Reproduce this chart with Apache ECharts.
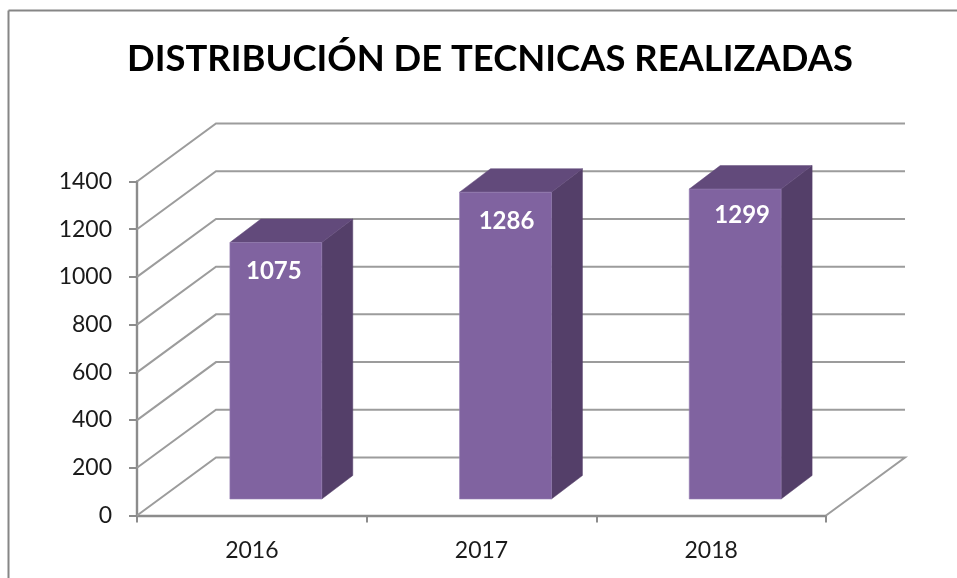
<!DOCTYPE html>
<html>
<head>
<meta charset="utf-8">
<style>
  html, body { margin: 0; padding: 0; background: #fff; }
  #main { width: 957px; height: 578px; }
</style>
<script src="https://cdn.jsdelivr.net/npm/echarts@6/dist/echarts.min.js"></script>
</head>
<body>
<div id="main"></div>
<script>
const titleText = 'DISTRIBUCIÓN DE TECNICAS REALIZADAS';
const years = ['2016', '2017', '2018'];
const totals = [1075, 1286, 1299];
const yTicks = [0, 200, 400, 600, 800, 1000, 1200, 1400];

// fake 3d: pixel offset from the front plane to the back wall
const wallDx = 79;
const wallDy = -58;
// where the bar sits inside that depth
const barDx = 24;
const barDy = -16.5;
const barDepthX = 31;
const barDepthY = -23.5;
const labelFont = 'bold 24px Lato, sans-serif';
const labelShift = [[-2, 29], [1, 29], [7, 26]];

const renderWall = (params, api) => {
  const box = params.coordSys;
  const y = api.coord([0, api.value(0)])[1];
  const left = box.x;
  const right = box.x + box.width;
  const isFloor = api.value(0) === 0;
  const points = [[left, y], [left + wallDx, y + wallDy], [right + wallDx, y + wallDy]];
  if (isFloor) points.push([right, y]);
  return {
    type: 'polyline',
    shape: { points },
    style: { stroke: '#9c9c9c', lineWidth: 2, fill: null }
  };
};

const renderBar = (params, api) => {
  const i = api.value(0);
  const top = api.coord([i, api.value(1)]);
  const base = api.coord([i, 0]);
  const w = api.size([1, 0])[0] * 0.4;
  const x0 = top[0] - w / 2 + barDx;
  const x1 = x0 + w;
  const yTop = top[1] + barDy;
  const yBase = base[1] + barDy;
  const poly = (points, fill) => ({
    type: 'polygon',
    shape: { points },
    style: { fill, stroke: fill, lineWidth: 0.5 }
  });
  return {
    type: 'group',
    children: [
      poly([[x1, yTop], [x1 + barDepthX, yTop + barDepthY], [x1 + barDepthX, yBase + barDepthY], [x1, yBase]], '#543F69'),
      poly([[x0, yTop], [x0 + barDepthX, yTop + barDepthY], [x1 + barDepthX, yTop + barDepthY], [x1, yTop]], '#624A7B'),
      {
        type: 'rect',
        shape: { x: x0, y: yTop, width: w, height: yBase - yTop },
        style: { fill: '#8063A0', stroke: '#9580B3', lineWidth: 0.6 }
      },
      {
        type: 'text',
        style: {
          text: String(api.value(1)),
          x: (x0 + x1) / 2 + labelShift[i][0],
          y: yTop + labelShift[i][1],
          font: labelFont,
          fill: '#fff',
          align: 'center',
          verticalAlign: 'middle'
        }
      }
    ]
  };
};

const chart = echarts.init(document.getElementById('main'), null, { renderer: 'canvas' });

chart.setOption({
  animation: false,
  backgroundColor: '#fff',
  title: {
    text: titleText,
    left: 122,
    top: 36,
    textStyle: { fontFamily: 'Lato, sans-serif', fontWeight: 'bold', fontSize: 36.4, color: '#000' }
  },
  grid: { left: 137, right: 131, top: 181.5, bottom: 62.5 },
  xAxis: {
    type: 'category',
    data: years,
    boundaryGap: true,
    axisLine: { onZero: false, lineStyle: { color: '#8c8c8c', width: 2.4 } },
    axisTick: { show: true, alignWithLabel: false, interval: 0, length: 7, lineStyle: { color: '#8c8c8c', width: 2 } },
    axisLabel: { color: '#1a1a1a', fontFamily: 'Lato, sans-serif', fontSize: 23, margin: 24 }
  },
  yAxis: {
    type: 'value',
    min: 0,
    max: 1400,
    interval: 200,
    axisLine: { show: true, lineStyle: { color: '#8c8c8c', width: 2.4 } },
    axisTick: { show: true, length: 8, lineStyle: { color: '#8c8c8c', width: 2 } },
    axisLabel: { color: '#1a1a1a', fontFamily: 'Lato, sans-serif', fontSize: 23, margin: 25, formatter: v => String(v) },
    splitLine: { show: false }
  },
  series: [
    {
      type: 'custom',
      z: 1,
      silent: true,
      renderItem: renderWall,
      encode: { y: 0 },
      data: yTicks.map(v => [v])
    },
    {
      type: 'custom',
      z: 3,
      silent: true,
      renderItem: renderBar,
      encode: { x: 0, y: 1 },
      data: totals.map((v, i) => [i, v])
    }
  ],
  // outer chart frame, only top and left show in the shot
  graphic: [
    { type: 'line', shape: { x1: 8.5, y1: 10.5, x2: 957, y2: 10.5 }, style: { stroke: '#868686', lineWidth: 2 } },
    { type: 'line', shape: { x1: 8.5, y1: 10.5, x2: 8.5, y2: 578 }, style: { stroke: '#868686', lineWidth: 2 } }
  ]
});
</script>
</body>
</html>
